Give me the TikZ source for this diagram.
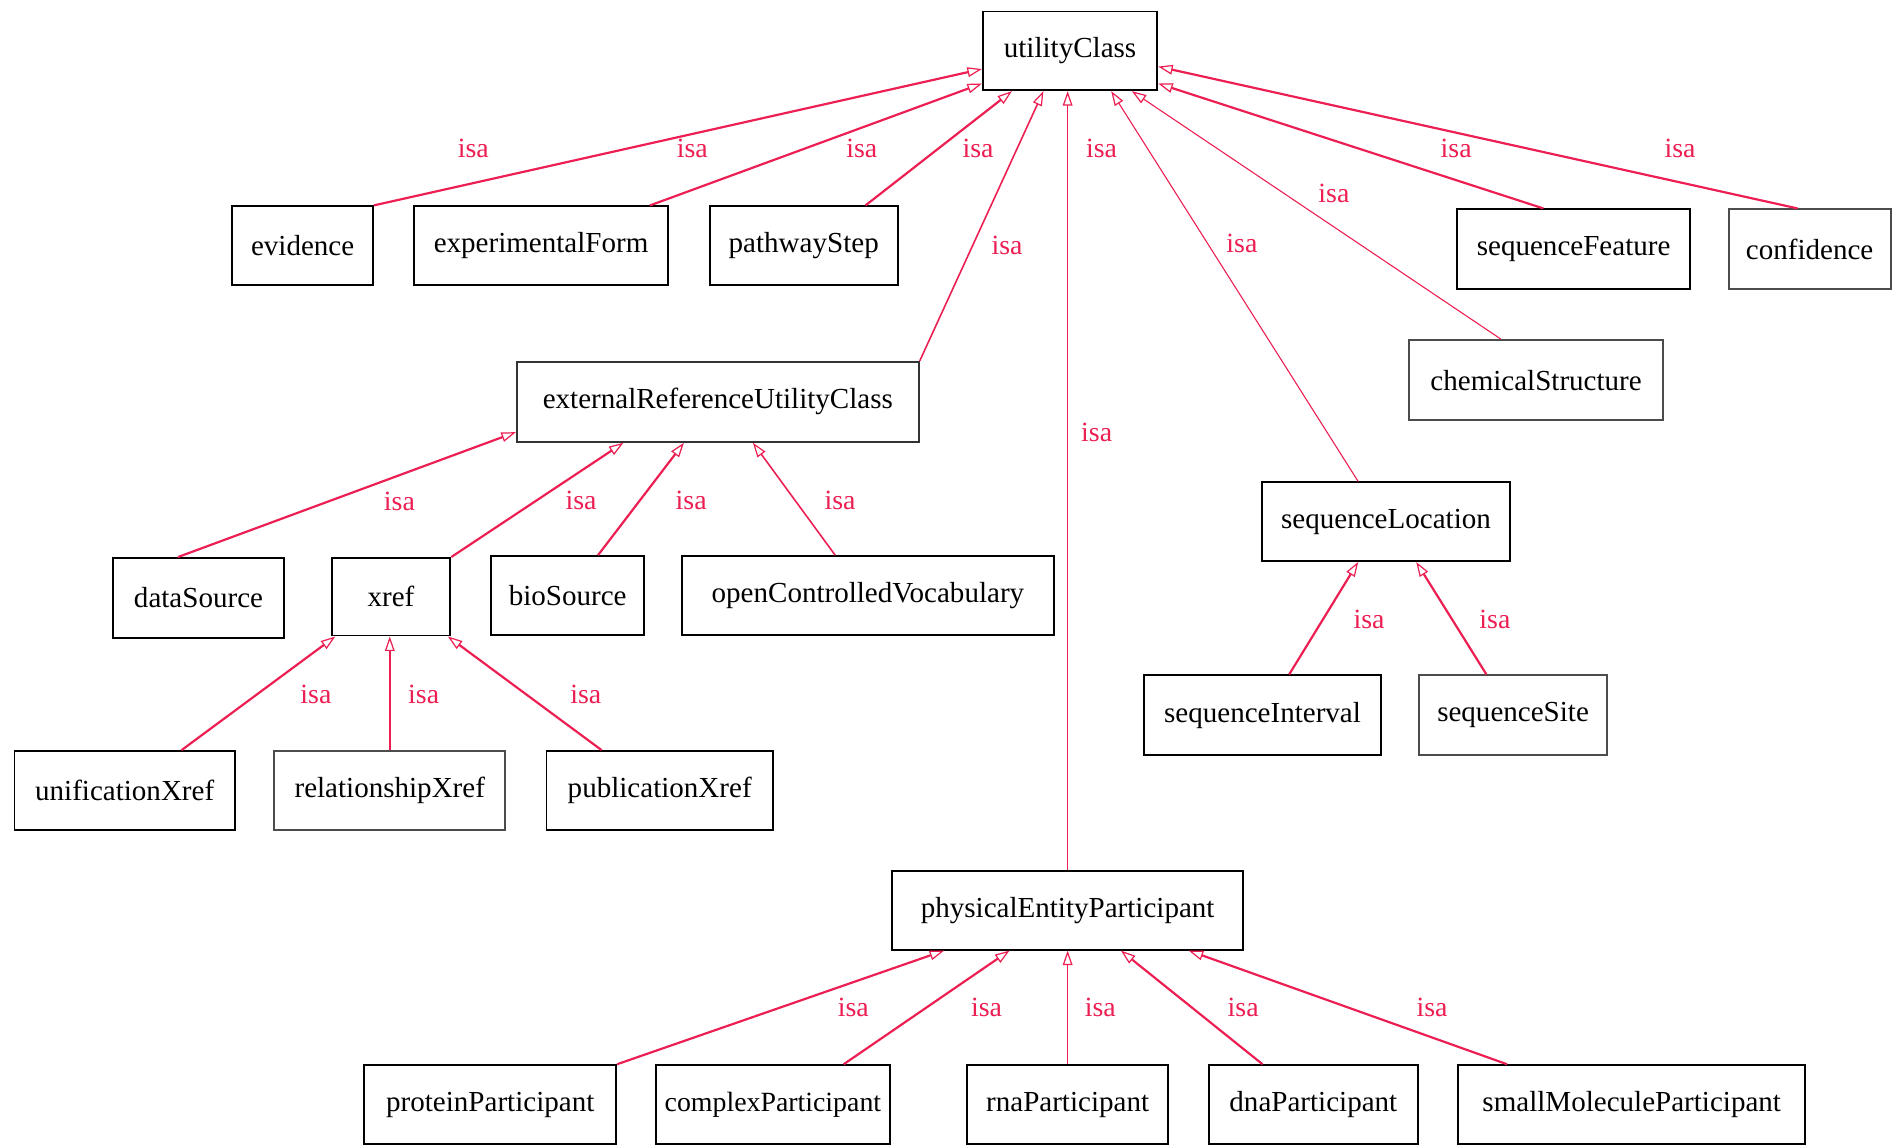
\documentclass[tikz,border=0pt]{standalone}
\usepackage{fontspec}
\setmainfont{Liberation Serif}
\usetikzlibrary{arrows.meta}
\definecolor{isared}{RGB}{236,30,82}
\tikzset{
  box/.style={draw=black, line width=1.6pt, rectangle, inner sep=0pt, font=\fontsize{24}{27}\selectfont},
  isa/.style={draw=isared, line width=1.8pt, -{Triangle[open, length=12pt, width=8pt, line width=1pt]}},
  isathin/.style={isa, line width=0.9pt},
  lbl/.style={text=isared, inner sep=0pt, font=\fontsize{23}{25}\selectfont}
}
\begin{document}
\begin{tikzpicture}[x=1pt, y=-1pt]
\useasboundingbox[fill=white] (0,0) rectangle (1568,947);
% nodes
\node[box, minimum width=144, minimum height=65] (uc) at (884,42) {utilityClass};
\node[box, minimum width=116, minimum height=65] (evid) at (250,203) {evidence};
\node[box, minimum width=210, minimum height=65] (expf) at (447,203) {experimentalForm};
\node[box, minimum width=155, minimum height=65] (pws) at (664,203) {pathwayStep};
\node[box, minimum width=193, minimum height=66] (sqf) at (1300,206) {sequenceFeature};
\node[box, minimum width=134, minimum height=66, draw=black!70] (conf) at (1495,206) {confidence};
\node[box, minimum width=210, minimum height=66, draw=black!70] (chem) at (1269,314) {chemicalStructure};
\node[box, minimum width=332, minimum height=66, draw=black!80] (eruc) at (593,332) {externalReferenceUtilityClass};
\node[box, minimum width=141, minimum height=66] (dsrc) at (164,494) {dataSource};
\node[box, minimum width=98, minimum height=64] (xref) at (323,493) {xref};
\node[box, minimum width=126, minimum height=65] (bios) at (469,492) {bioSource};
\node[box, minimum width=307, minimum height=65] (ocv) at (717,492) {openControlledVocabulary};
\node[box, minimum width=205, minimum height=65] (sql) at (1145,431) {sequenceLocation};
\node[box, minimum width=196, minimum height=66] (sqi) at (1043,591) {sequenceInterval};
\node[box, minimum width=155, minimum height=66, draw=black!70] (sqs) at (1250,591) {sequenceSite};
\node[box, minimum width=182, minimum height=65] (unif) at (103,653) {unificationXref};
\node[box, minimum width=191, minimum height=65, draw=black!70] (relx) at (322,653) {relationshipXref};
\node[box, minimum width=187, minimum height=65] (pubx) at (545,653) {publicationXref};
\node[box, minimum width=290, minimum height=65] (pep) at (882,752) {physicalEntityParticipant};
\node[box, minimum width=208, minimum height=65] (prot) at (405,912.5) {proteinParticipant};
\node[box, minimum width=193, minimum height=65] (cplx) at (638.5,912.5) {\fontsize{23}{26}\selectfont complexParticipant};
\node[box, minimum width=166, minimum height=65] (rna) at (882,912.5) {rnaParticipant};
\node[box, minimum width=173, minimum height=65] (dna) at (1085,912.5) {dnaParticipant};
\node[box, minimum width=287, minimum height=65] (smol) at (1348,912.5) {smallMoleculeParticipant};
% edges to utilityClass
\draw[isa] (evid.north east) -- ([yshift=-15pt]uc.west);
\draw[isa] ([xshift=90pt]expf.north) -- ([yshift=-27pt]uc.west);
\draw[isa] ([xshift=51pt]pws.north) -- ([xshift=-48pt]uc.south);
\draw[isa, line width=1.3pt] (eruc.north east) -- ([xshift=-22pt]uc.south);
\draw[isathin] (pep.north) -- (uc.south -| pep.north);
\draw[isathin] ([xshift=-23pt]sql.north) -- ([xshift=34pt]uc.south);
\draw[isathin] ([xshift=-29pt]chem.north) -- ([xshift=51pt]uc.south);
\draw[isa] ([xshift=-25pt]sqf.north) -- ([yshift=-27pt]uc.east);
\draw[isa] ([xshift=-10pt]conf.north) -- ([yshift=-13pt]uc.east);
% edges to externalReferenceUtilityClass
\draw[isa] ([xshift=-17pt]dsrc.north) -- ([yshift=-25pt]eruc.west);
\draw[isa] (xref.north east) -- ([xshift=-78pt]eruc.south);
\draw[isa] ([xshift=25pt]bios.north) -- ([xshift=-28pt]eruc.south);
\draw[isa, line width=1.3pt] ([xshift=-27pt]ocv.north) -- ([xshift=29pt]eruc.south);
% edges to xref
\draw[isa] ([xshift=47pt]unif.north) -- ([xshift=-46pt]xref.south);
\draw[isa, line width=1.3pt] (relx.north) -- (xref.south -| relx.north);
\draw[isa] ([xshift=-48pt]pubx.north) -- ([xshift=47pt]xref.south);
% edges to sequenceLocation
\draw[isa] ([xshift=22pt]sqi.north) -- ([xshift=-23pt]sql.south);
\draw[isa] ([xshift=-22pt]sqs.north) -- ([xshift=25pt]sql.south);
% edges to physicalEntityParticipant
\draw[isa] (prot.north east) -- ([xshift=-102pt]pep.south);
\draw[isa] ([xshift=58.5pt]cplx.north) -- ([xshift=-48pt]pep.south);
\draw[isathin] (rna.north) -- (pep.south);
\draw[isa] ([xshift=-42pt]dna.north) -- ([xshift=44pt]pep.south);
\draw[isa] ([xshift=-103pt]smol.north) -- ([xshift=100pt]pep.south);
% labels
\node[lbl] (l1) at (391,123) {isa};
\node[lbl] (l2) at (572,123) {isa};
\node[lbl] (l3) at (712,123) {isa};
\node[lbl] (l4) at (808,123) {isa};
\node[lbl] (l5) at (910,123) {isa};
\node[lbl] (l6) at (1203,123) {isa};
\node[lbl] (l7) at (1388,123) {isa};
\node[lbl] (l8) at (1102,160) {isa};
\node[lbl] (l9) at (832,203) {isa};
\node[lbl] (l10) at (1026,201) {isa};
\node[lbl] (l11) at (906,357) {isa};
\node[lbl] (l12) at (330,414) {isa};
\node[lbl] (l13) at (480,413) {isa};
\node[lbl] (l14) at (571,413) {isa};
\node[lbl] (l15) at (694,413) {isa};
\node[lbl] (l16) at (261,574) {isa};
\node[lbl] (l17) at (350,574) {isa};
\node[lbl] (l18) at (484,574) {isa};
\node[lbl] (l19) at (1131,512) {isa};
\node[lbl] (l20) at (1235,512) {isa};
\node[lbl] (l21) at (705,832) {isa};
\node[lbl] (l22) at (815,832) {isa};
\node[lbl] (l23) at (909,832) {isa};
\node[lbl] (l24) at (1027,832) {isa};
\node[lbl] (l25) at (1183,832) {isa};
\end{tikzpicture}
\end{document}
